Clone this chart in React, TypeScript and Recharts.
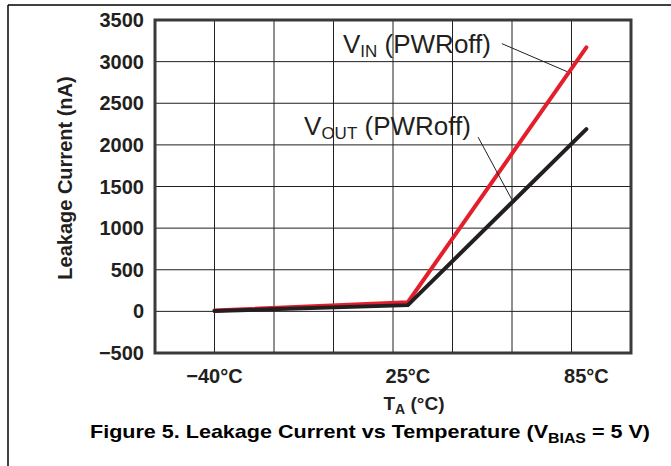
import {
  ComposedChart,
  Line,
  XAxis,
  YAxis,
  CartesianGrid,
  ReferenceLine,
  ReferenceDot,
  ReferenceArea,
} from "recharts";

// temperature points (°C) and leakage current (nA)
const temps = [-40, 25, 85];
const vinValues = [10, 110, 3170];
const voutValues = [5, 75, 2190];

const yTicks = [-500, 0, 500, 1000, 1500, 2000, 2500, 3000, 3500];
const xGrid = [-60, -40, -20, 0, 20, 40, 60, 80, 100];
const xTickLabels = ["\u221240\u00b0C", "25\u00b0C", "85\u00b0C"];

const data = temps.map((t, i) => ({ t, vin: vinValues[i], vout: voutValues[i] }));

const FONT = '"Liberation Sans", Arial, Helvetica, sans-serif';
const INK = "#231f20";

const fmtY = (v: number) => (v < 0 ? "\u2212" + Math.abs(v) : String(v));
const fmtX = (v: number) => xTickLabels[temps.indexOf(v)] ?? "";

function Callout({ cx, cy, main, sub }: any) {
  return (
    <text x={cx} y={cy} fontFamily={FONT} fontSize={26} fill={INK}>
      {main}
      <tspan fontSize={17} dy={4}>
        {sub}
      </tspan>
      <tspan dy={-4}> (PWRoff)</tspan>
    </text>
  );
}

export default function App() {
  return (
    <div
      style={{
        position: "absolute",
        left: 0,
        top: 0,
        width: 671,
        height: 466,
        background: "#fff",
      }}
    >
      <ComposedChart
        width={671}
        height={466}
        data={data}
        margin={{ top: 20, right: 40, bottom: 83, left: 0 }}
      >
        <CartesianGrid stroke={INK} strokeWidth={1} verticalValues={xGrid} />
        <XAxis
          dataKey="t"
          type="number"
          domain={[-60, 100]}
          ticks={temps}
          tickFormatter={fmtX}
          height={30}
          axisLine={false}
          tickLine={false}
          tickMargin={10}
          tick={{ fontSize: 20, fontWeight: "bold", fill: INK, fontFamily: FONT }}
        />
        <YAxis
          type="number"
          domain={[-500, 3500]}
          ticks={yTicks}
          tickFormatter={fmtY}
          width={155}
          axisLine={false}
          tickLine={false}
          tickMargin={5}
          tick={{ fontSize: 20, fontWeight: "bold", fill: INK, fontFamily: FONT }}
        />
        <Line
          dataKey="vin"
          type="linear"
          stroke="#e41f2b"
          strokeWidth={4}
          strokeLinecap="round"
          dot={false}
          isAnimationActive={false}
        />
        <Line
          dataKey="vout"
          type="linear"
          stroke={INK}
          strokeWidth={4}
          strokeLinecap="round"
          dot={false}
          isAnimationActive={false}
        />
        <ReferenceLine
          segment={[
            { x: 56.6, y: 3216 },
            { x: 78.5, y: 2880 },
          ]}
          stroke={INK}
          strokeWidth={1}
        />
        <ReferenceLine
          segment={[
            { x: 48.6, y: 2093 },
            { x: 60, y: 1340 },
          ]}
          stroke={INK}
          strokeWidth={1}
        />
        <ReferenceDot
          x={3.2}
          y={3107}
          r={0}
          shape={(p: any) => <Callout cx={p.cx} cy={p.cy} main="V" sub="IN" />}
        />
        <ReferenceDot
          x={-9.9}
          y={2116}
          r={0}
          shape={(p: any) => <Callout cx={p.cx} cy={p.cy} main="V" sub="OUT" />}
        />
        <ReferenceArea
          x1={-60}
          x2={100}
          y1={-500}
          y2={3500}
          fill="none"
          stroke="#3a3a3a"
          strokeWidth={3}
          fillOpacity={0}
        />
      </ComposedChart>
      <svg
        width={671}
        height={466}
        style={{ position: "absolute", left: 0, top: 0, pointerEvents: "none" }}
      >
        <line x1={8} y1={5} x2={671} y2={5} stroke="#000" strokeWidth={1.5} />
        <line x1={8} y1={5} x2={8} y2={466} stroke="#000" strokeWidth={1.5} />
        <text
          transform="translate(72,178) rotate(-90)"
          textAnchor="middle"
          fontFamily={FONT}
          fontWeight="bold"
          fontSize={20}
          fill={INK}
        >
          Leakage Current (nA)
        </text>
        <text
          x={414}
          y={410}
          textAnchor="middle"
          fontFamily={FONT}
          fontWeight="bold"
          fontSize={19}
          fill={INK}
        >
          T
          <tspan fontSize={14} dy={4}>
            A
          </tspan>
          <tspan dy={-4}> (°C)</tspan>
        </text>
        <text
          x={90}
          y={438}
          fontFamily={FONT}
          fontWeight="bold"
          fontSize={19}
          fill="#000"
          textLength={560}
          lengthAdjust="spacingAndGlyphs"
        >
          Figure 5. Leakage Current vs Temperature (V
          <tspan fontSize={14} dy={5}>
            BIAS
          </tspan>
          <tspan dy={-5}> = 5 V)</tspan>
        </text>
      </svg>
    </div>
  );
}
